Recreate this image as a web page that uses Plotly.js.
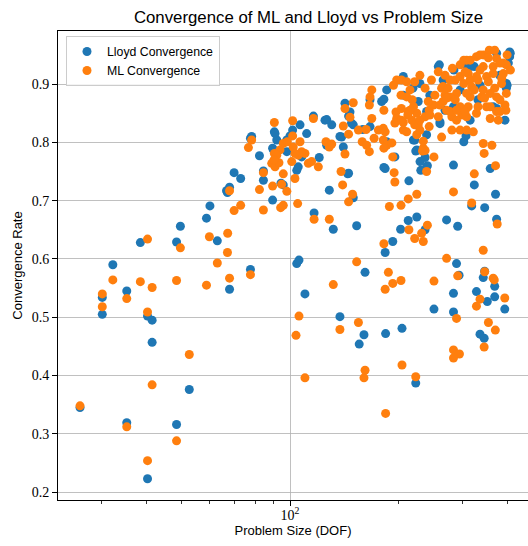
<!DOCTYPE html>
<html>
<head>
<meta charset="utf-8">
<script src="https://cdn.plot.ly/plotly-3.0.1.min.js"></script>
<style>html,body{margin:0;padding:0;background:#fff;overflow:hidden}</style>
</head>
<body>
<div id="chart" style="width:528px;height:546px"></div>
<script>
// Lloyd convergence (DOF, rate)
const lloydDOF = [26.2,32.3,30.2,30.2,35.3,40.3,41.5,41.5,35.3,40.3,48.5,52.6,68,77.7,38.5,48.5,49.7,58.7,60,62.9,
70,73,67.1,68,77.7,82.3,84.4,84.4,89.5,95.8,90.5,91.9,89.5,98,101.7,106.6,107.7,104.4,105.4,111.2,
120.5,116.6,131.8,128.5,116.1,126.4,130.5,126.4,139,140.5,142,146.6,145.3,149.7,144.5,149.7,153,166.6,166.6,179.4,
182,185.3,195.2,182,213.5,212.6,224.5,202.5,236.7,183.5,192.6,161.4,104.4,105.9,257.5,206,226.6,219.8,224.5,229.2,
239,239,260.3,265.6,284.6,315.5,406,406,373.5,324,402.6,397.5,397.5,365.5,331.7,303,283.7,324,358.6,371,
318.6,346.2,271.5,291.4,373.5,289.3,346,259.3,206,407.5,399.4,239,260.3,307.3,221.5,223,236.7,240.2,230.3,373.5,
110,137.5,160.3,155.5,184,204.3,223,294,250.5,283.7,283.7,343,369,328.5,352,369,393.5,336,345,78.3,
90.9,100,90,98,94.4,66.7,125,137.5,148,159,185.3,183.5,145.3,219,308,283.7,229,296,336,381,
268.8,315.5,244,394];
const lloydRate = [0.345,0.590,0.534,0.505,0.545,0.502,0.495,0.457,0.319,0.223,0.316,0.376,0.548,0.582,0.628,0.629,0.656,0.670,0.691,0.631,
0.748,0.738,0.714,0.723,0.807,0.777,0.751,0.735,0.701,0.727,0.818,0.804,0.790,0.804,0.821,0.830,0.775,0.752,0.758,0.815,
0.774,0.679,0.651,0.718,0.845,0.839,0.830,0.795,0.809,0.792,0.867,0.852,0.845,0.830,0.746,0.705,0.657,0.827,0.873,0.870,
0.874,0.890,0.775,0.757,0.734,0.666,0.672,0.651,0.650,0.611,0.630,0.577,0.592,0.598,0.930,0.881,0.870,0.804,0.787,0.767,
0.758,0.813,0.835,0.907,0.924,0.930,0.955,0.947,0.953,0.930,0.936,0.901,0.893,0.861,0.873,0.801,0.761,0.727,0.755,0.711,
0.691,0.688,0.667,0.656,0.668,0.592,0.579,0.933,0.913,0.953,0.898,0.853,0.832,0.811,0.804,0.785,0.774,0.760,0.752,0.858,
0.540,0.501,0.470,0.454,0.472,0.481,0.387,0.572,0.514,0.541,0.509,0.568,0.553,0.544,0.527,0.535,0.514,0.471,0.464,0.810,
0.815,0.811,0.787,0.784,0.730,0.717,0.838,0.810,0.833,0.822,0.801,0.755,0.747,0.893,0.933,0.861,0.901,0.890,0.898,0.915,
0.855,0.838,0.881,0.838];

// ML convergence (DOF, rate)
const mlDOF = [26.2,32.3,30.2,30.2,35.3,38.5,41.5,40.3,41.5,35.3,40.3,48.5,48.5,52.6,58.7,62.9,68,67.1,49.7,77.7,
40.3,59.8,67.2,68,70,73,76.7,78.3,84.4,82.3,84.4,94.2,95.8,89.5,94.8,98,95.8,90.5,90.5,93.8,
89,90.9,93.2,95.8,101.7,101.7,101.1,105.4,110,102.1,107.7,103.2,112.4,114.8,119.8,105,116.6,128.5,116.1,125.8,
128.5,142,140.5,149.7,142,146.6,145.3,138.5,139.9,149,145.3,154.7,158.5,163,165.9,162.5,168.5,168.5,166.6,165.9,
182,175.7,181.3,171,181.3,185.3,182,192.6,194.3,195.2,188.5,203,212.6,224.5,213.5,240.2,221.5,231.6,234,182,
153,187.3,257.5,246.5,229,221.5,197.5,203.5,193.5,210.5,215,196.6,197.5,195.2,203.5,206,212.6,217.5,221.5,224.5,
206,224.5,229,243,234,236.7,239,250.5,263,243,249.8,257.5,265.6,271.5,263,268.8,277.5,296,308.5,328.5,
343,356.5,399.4,373.5,343,365.5,390,390,385.5,397.5,394,396.3,373.5,377.5,350.4,358.6,328.5,339.7,308.5,299,
280.8,289.3,296,280.8,308.5,322,311.7,315.5,303,296,315.5,328.5,350.4,365.5,343,358.6,373.5,289.3,277.5,324,
283.7,343,362.5,345,371,318.6,375,343,271.5,346.2,365.5,281.8,303,336,397.5,210.5,219.8,241.5,265.6,271.5,
311.7,318.6,331.7,354.4,358.6,331.7,296,308.5,215,234,232.8,381.5,277.5,289.3,305.5,203.5,210.5,226.6,236.7,105.9,
103.9,110,131.8,137.5,154.7,161.4,160.3,192.6,203,183.5,204.3,223,184,250.5,291.4,289.3,283.7,294.7,283.7,368,
336,328.5,393.5,354.5,370.5,345,98.3,91.9,90.3,106.6,103.2,130.5,183.5,191.5,
203,218,236.7,252,274,287,305.5,324,346,369,386,336,315.5,369,381.5,287,260.3,244,229,212,
381.5,354.4,408,268.8];
const mlRate = [0.348,0.564,0.540,0.518,0.532,0.561,0.551,0.509,0.384,0.312,0.254,0.288,0.563,0.436,0.555,0.593,0.567,0.611,0.619,0.573,
0.634,0.638,0.644,0.717,0.683,0.692,0.791,0.804,0.748,0.719,0.684,0.688,0.692,0.725,0.728,0.716,0.746,0.834,0.781,0.787,
0.764,0.758,0.765,0.798,0.837,0.811,0.767,0.778,0.781,0.792,0.784,0.738,0.764,0.767,0.758,0.695,0.668,0.668,0.841,0.801,
0.792,0.780,0.828,0.868,0.858,0.843,0.814,0.750,0.727,0.711,0.698,0.821,0.801,0.795,0.784,0.822,0.841,0.890,0.878,0.864,
0.855,0.821,0.824,0.807,0.804,0.795,0.790,0.775,0.748,0.732,0.690,0.692,0.703,0.711,0.650,0.658,0.635,0.644,0.630,0.626,
0.595,0.577,0.921,0.907,0.915,0.904,0.907,0.907,0.898,0.878,0.890,0.852,0.841,0.833,0.858,0.834,0.853,0.838,0.830,0.850,
0.821,0.813,0.821,0.827,0.790,0.786,0.750,0.775,0.809,0.855,0.864,0.844,0.870,0.855,0.893,0.881,0.907,0.933,0.941,0.947,
0.950,0.958,0.950,0.944,0.930,0.930,0.936,0.918,0.901,0.884,0.864,0.855,0.853,0.838,0.861,0.841,0.850,0.878,0.844,0.847,
0.844,0.838,0.821,0.821,0.821,0.818,0.861,0.878,0.901,0.913,0.907,0.913,0.913,0.918,0.890,0.884,0.878,0.884,0.878,0.746,
0.715,0.798,0.795,0.781,0.760,0.696,0.660,0.615,0.601,0.578,0.567,0.927,0.941,0.950,0.933,0.904,0.861,0.870,0.896,0.876,
0.918,0.895,0.907,0.904,0.861,0.861,0.861,0.884,0.855,0.802,0.785,0.853,0.853,0.855,0.853,0.838,0.818,0.830,0.844,0.502,
0.469,0.396,0.556,0.479,0.491,0.409,0.396,0.558,0.563,0.548,0.418,0.398,0.335,0.562,0.571,0.498,0.444,0.437,0.430,0.564,
0.531,0.519,0.533,0.491,0.478,0.449,0.801,0.778,0.770,0.801,0.781,0.797,0.818,0.799,
0.881,0.873,0.893,0.881,0.893,0.907,0.921,0.890,0.876,0.893,0.910,0.924,0.941,0.958,0.873,0.873,0.864,0.847,0.838,0.847,
0.936,0.945,0.924,0.915];

const titleText = 'Convergence of ML and Lloyd vs Problem Size';
const xLabel = 'Problem Size (DOF)';
const yLabel = 'Convergence Rate';
const yTicks = [0.2,0.3,0.4,0.5,0.6,0.7,0.8,0.9];
const xMinor = [30,40,50,60,70,80,90,200,300,400];

const sans = 'Liberation Sans, Arial, sans-serif';
const serif = 'Liberation Serif, Times New Roman, serif';

const traces = [
  {x: lloydDOF, y: lloydRate, mode: 'markers', type: 'scatter', name: 'Lloyd Convergence',
   marker: {color: '#1f77b4', size: 9, line: {width: 0}}},
  {x: mlDOF, y: mlRate, mode: 'markers', type: 'scatter', name: 'ML Convergence',
   marker: {color: '#ff7f0e', size: 9, line: {width: 0}}}
];

const layout = {
  width: 528, height: 546,
  margin: {l: 58, r: 0, t: 31, b: 46, pad: 0},
  paper_bgcolor: '#fff', plot_bgcolor: '#fff',
  showlegend: true,
  title: {text: titleText, font: {family: sans, size: 16.8, color: '#000'},
          x: 308.5/528, xref: 'container', xanchor: 'center',
          y: 1 - 17/546, yref: 'container', yanchor: 'middle'},
  xaxis: {type: 'log', range: [1.3573, 2.6593],
          tickmode: 'array', tickvals: [100], ticktext: ['10<sup>2</sup>'],
          ticks: 'outside', ticklen: 5, tickwidth: 1, tickcolor: '#000',
          ticklabelstandoff: -3,
          tickfont: {family: serif, size: 14, color: '#000'},
          showgrid: true, gridcolor: '#b0b0b0', gridwidth: 0.8,
          showline: true, linecolor: '#000', linewidth: 1, mirror: true,
          zeroline: false,
          minor: {tickmode: 'array', tickvals: xMinor, ticks: 'outside', ticklen: 3, tickwidth: 0.8, tickcolor: '#000', showgrid: false},
          title: {text: xLabel, font: {family: sans, size: 13, color: '#000'}, standoff: 4}},
  yaxis: {range: [0.1865, 0.991],
          tickmode: 'array', tickvals: yTicks, ticktext: yTicks.map(v => v.toFixed(1)),
          ticks: 'outside', ticklen: 5, tickwidth: 1, tickcolor: '#000',
          tickfont: {family: serif, size: 14, color: '#000'},
          showgrid: true, gridcolor: '#b0b0b0', gridwidth: 0.8,
          showline: true, linecolor: '#000', linewidth: 1, mirror: false,
          zeroline: false,
          title: {text: yLabel, font: {family: sans, size: 13, color: '#000'}, standoff: 6}},
  legend: {x: 8/470, xanchor: 'left', y: (500-36)/469, yanchor: 'top',
           bgcolor: 'rgba(255,255,255,0.8)', bordercolor: '#cccccc', borderwidth: 1,
           font: {family: sans, size: 12.3, color: '#000'}}
};

Plotly.newPlot('chart', traces, layout, {displayModeBar: false, staticPlot: true});
</script>
</body>
</html>
